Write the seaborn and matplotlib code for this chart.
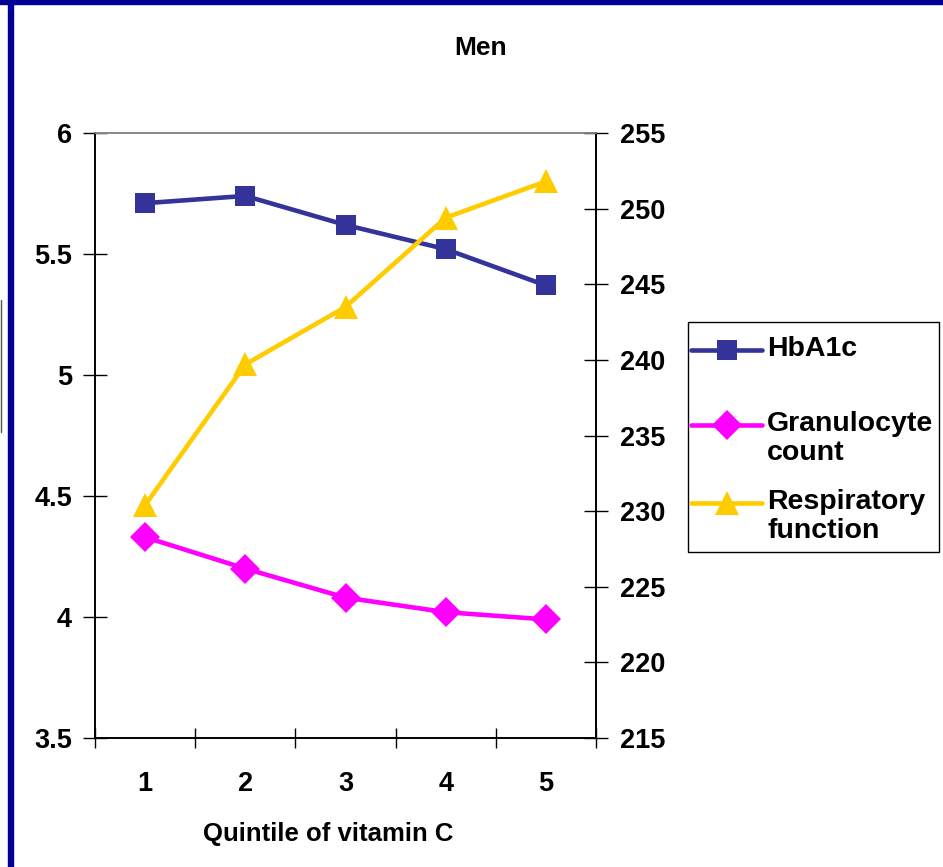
import matplotlib
matplotlib.use("Agg")
import matplotlib.pyplot as plt
import matplotlib.lines as mlines
import matplotlib.patches as mpatches
import seaborn as sns
import pandas as pd

sns.set_style("white")
plt.rcParams["font.family"] = ["Liberation Sans", "DejaVu Sans"]
plt.rcParams["font.weight"] = "bold"
plt.rcParams["text.color"] = "black"
plt.rcParams["axes.labelcolor"] = "black"
plt.rcParams["xtick.color"] = "black"
plt.rcParams["ytick.color"] = "black"

quintiles = [1, 2, 3, 4, 5]
hba1c = [5.71, 5.74, 5.62, 5.52, 5.37]
granulocyte = [4.33, 4.20, 4.08, 4.02, 3.99]
respiratory = [230.4, 239.7, 243.5, 249.4, 251.8]

series_names = ["HbA1c", "Granulocyte\ncount", "Respiratory\nfunction"]

left_ticks = [3.5, 4, 4.5, 5, 5.5, 6]
left_labels = ["3.5", "4", "4.5", "5", "5.5", "6"]
right_ticks = [215, 220, 225, 230, 235, 240, 245, 250, 255]

c_hb = "#333399"
c_gr = "#FF00FF"
c_rs = "#FFCC00"

styles = [
    dict(color=c_hb, marker="s", markersize=14.5),
    dict(color=c_gr, marker="D", markersize=15.5),
    dict(color=c_rs, marker="^", markersize=17),
]

df = pd.DataFrame({"q": quintiles, "hb": hba1c, "gr": granulocyte, "rs": respiratory})

fig = plt.figure(figsize=(9.43, 8.67), dpi=100)
ax = fig.add_axes([95 / 943, 1 - 738 / 867, 501 / 943, 605 / 867])
ax2 = ax.twinx()

lw = 3.3
sns.lineplot(data=df, x="q", y="hb", ax=ax, lw=lw, markeredgewidth=0, zorder=3, **styles[0])
sns.lineplot(data=df, x="q", y="gr", ax=ax, lw=lw, markeredgewidth=0, zorder=3, **styles[1])
sns.lineplot(data=df, x="q", y="rs", ax=ax2, lw=lw, markeredgewidth=0, zorder=3, **styles[2])

ax.set_xlim(0.5, 5.5)
ax.set_ylim(3.5, 6)
ax2.set_ylim(215, 255)

ax.set_yticks(left_ticks)
ax.set_yticklabels(left_labels)
ax2.set_yticks(right_ticks)
ax2.set_yticklabels([str(t) for t in right_ticks])

ax.set_xticks([0.5, 1.5, 2.5, 3.5, 4.5, 5.5])
ax.set_xticklabels([])
ax.set_xticks(quintiles, minor=True)
ax.set_xticklabels([str(q) for q in quintiles], minor=True)

for a in (ax, ax2):
    for s in a.spines.values():
        s.set_color("black")
        s.set_linewidth(1.2)
    a.spines["top"].set_color("#888888")
    a.spines["top"].set_linewidth(1.2)

fs = 19.5
ax.tick_params(axis="y", which="major", direction="inout", length=17, width=1,
               labelsize=fs, pad=8, left=True)
ax2.tick_params(axis="y", which="major", direction="inout", length=17, width=1,
                labelsize=fs, pad=9, right=True)
ax.tick_params(axis="x", which="major", direction="inout", length=15, width=1,
               bottom=True)
ax.tick_params(axis="x", which="minor", length=0, labelsize=fs, pad=24)
for lab in ax.get_xticklabels(minor=True) + ax.get_yticklabels() + ax2.get_yticklabels():
    lab.set_fontweight("bold")

ax.set_xlabel("Quintile of vitamin C", fontsize=18.5, fontweight="bold")
ax.xaxis.set_label_coords(0.466, -0.139)
ax.set_ylabel("")
ax2.set_ylabel("")
ax.grid(False)
ax2.grid(False)

fig.text(481 / 943, 1 - 48 / 867, "Men", ha="center", va="center",
         fontsize=19, fontweight="bold")

# legend box with handles aligned to the first line of each label
H = 867.0
W = 943.0
fig.patches.append(mpatches.Rectangle((688 / W, 1 - 552 / H), 251 / W, 230 / H,
                                      transform=fig.transFigure, facecolor="white",
                                      edgecolor="black", lw=1, zorder=5))
row_y = [350, 425, 503]
for name, st, y in zip(series_names, styles, row_y):
    fig.lines.append(mlines.Line2D([691 / W, 762 / W], [1 - y / H, 1 - y / H],
                                   transform=fig.transFigure, lw=lw, zorder=6,
                                   color=st["color"]))
    fig.lines.append(mlines.Line2D([726.5 / W], [1 - y / H], transform=fig.transFigure,
                                   lw=0, markeredgewidth=0, zorder=7, **st))
    fig.text(767 / W, 1 - (y - 14) / H, name, ha="left", va="top", fontsize=20.5,
             fontweight="bold", linespacing=1.15, zorder=7)

# slide frame
fig.patches.append(mpatches.Rectangle((0, 1 - 4 / H), 1, 4 / H, transform=fig.transFigure,
                                      color="#000099", zorder=10))
fig.patches.append(mpatches.Rectangle((8 / W, 0), 5 / W, 1, transform=fig.transFigure,
                                      color="#000099", zorder=10))
fig.lines.append(mlines.Line2D([0.5 / W, 0.5 / W], [1 - 300 / H, 1 - 432 / H],
                               transform=fig.transFigure, color="#555555", lw=1))

fig.savefig("out.png", dpi=100)
